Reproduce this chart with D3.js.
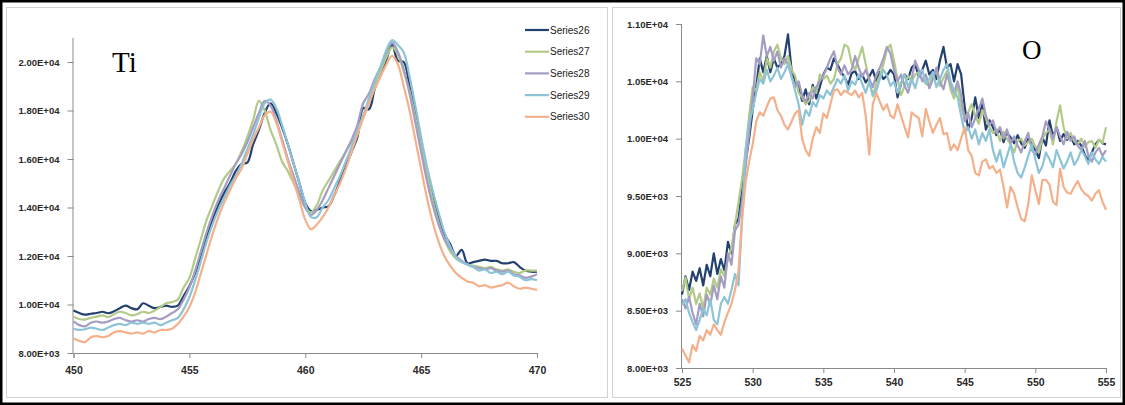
<!DOCTYPE html>
<html>
<head>
<meta charset="utf-8">
<script src="https://cdn.jsdelivr.net/npm/d3@7"></script>
<style>
  body { margin: 0; background: #ffffff; }
  svg { display: block; }
  .tick text { font-family: "Liberation Sans", Arial, sans-serif; font-size: 9.5px; font-weight: bold; fill: #2a2a2a; }
</style>
</head>
<body>
<svg id="chart" width="1125" height="405"></svg>
<script>
// ---- Series ----
const seriesNames = ["Series26", "Series27", "Series28", "Series29", "Series30"];
const seriesColors = ["#23416f", "#b2ca88", "#a49cc2", "#8cc3d7", "#f3b08a"];

// ---- Ti L-edge panel: energy grid 450–470 eV, 0.25 eV steps ----
const tiEnergy = d3.range(81).map(i => 450 + i * 0.25);
const tiS26 = [9750,9650,9580,9620,9650,9700,9640,9720,9850,9950,9850,9800,10050,9950,9850,9900,9950,9900,9950,10350,
  10750,11300,12000,12800,13500,14100,14600,15000,15500,15800,15850,16600,17200,17900,18300,17900,17300,16600,15800,15000,
  14200,13850,13900,14000,14050,14500,15100,15700,16300,16900,18100,18050,18900,19500,20100,20700,20050,20000,19000,17900,
  16700,15500,14500,13600,12900,12500,12000,12250,11700,11750,11800,11850,11800,11800,11700,11700,11750,11550,11400,11350,11350];
const tiS27 = [9500,9400,9380,9450,9500,9550,9480,9600,9700,9650,9550,9600,9700,9650,9750,9900,10050,10100,10200,10700,
  11100,11900,12700,13500,14100,14700,15200,15500,15800,16300,16900,17600,18400,18000,17200,16600,15900,15500,15000,14500,
  14000,13800,14100,14700,15100,15500,15900,16300,16700,17100,17700,18300,19000,19600,20200,20600,20300,19600,18800,17700,
  16500,15400,14300,13400,12700,12200,11900,11750,11650,11600,11550,11500,11550,11450,11400,11450,11350,11300,11400,11400,11400];
const tiS28 = [9300,9150,9100,9250,9300,9250,9300,9400,9450,9350,9300,9350,9300,9400,9450,9400,9500,9650,9800,10200,
  10700,11400,12200,13000,13700,14300,14800,15300,15800,16200,16700,17300,17900,18400,18200,17600,16800,16000,15300,14600,
  14000,13700,13900,14300,14800,15300,15800,16300,16800,17400,18300,18700,19300,19800,20400,20800,20400,19700,18700,17500,
  16300,15100,14100,13300,12700,12300,12000,11800,11650,11550,11500,11450,11500,11400,11350,11400,11250,11200,11100,11150,11250];
const tiS29 = [9000,8950,8980,9050,9000,8950,9050,9150,9200,9150,9250,9200,9250,9200,9250,9150,9250,9350,9450,9800,
  10300,11000,11800,12600,13300,13900,14400,14900,15300,15800,16400,17000,17700,18300,18450,18100,17400,16600,15800,15000,
  14200,13600,13600,14000,14300,14800,15300,15900,16500,17200,17800,18500,19200,19800,20500,20900,20700,20400,19400,18200,
  16900,15700,14700,13800,13000,12400,11950,11750,11650,11550,11400,11450,11300,11350,11250,11350,11200,11150,11000,11050,11000];
const tiS30 = [8600,8500,8450,8650,8700,8650,8700,8850,8900,8850,8800,8850,8800,8900,8850,8950,8950,9000,9200,9500,
  9900,10500,11300,12100,12900,13600,14200,14700,15200,15600,16200,16800,17300,17800,17950,17500,16700,15900,15100,14300,
  13500,13100,13300,13600,14000,14500,15000,15600,16300,17000,17700,18300,18900,19400,19900,20250,19900,19000,18000,16800,
  15600,14400,13400,12600,12000,11600,11300,11100,10950,10900,10750,10800,10700,10750,10800,10900,10750,10650,10700,10650,10600];
const tiXTicks = [450, 455, 460, 465, 470];
const tiYTicks = [8000, 10000, 12000, 14000, 16000, 18000, 20000];

// ---- O K-edge panel: energy grid 525–555 eV, 0.25 eV steps ----
const oEnergy = d3.range(121).map(i => 525 + i * 0.25);
const oS26 = [8640,8800,8680,8840,8760,8870,8720,8900,8800,9000,8820,8950,8850,9100,9000,9250,9300,9550,9800,10000,
  10250,10450,10700,10580,10720,10580,10700,10620,10650,10720,10910,10600,10500,10450,10330,10430,10300,10470,10350,10450,
  10560,10620,10600,10700,10650,10580,10540,10470,10570,10590,10520,10560,10490,10540,10600,10500,10580,10520,10550,10600,
  10560,10360,10480,10560,10520,10620,10650,10540,10600,10680,10560,10600,10520,10680,10800,10620,10650,10500,10650,10560,
  10280,10080,10180,10360,10180,10300,10080,10160,10100,10030,10080,9970,10050,10010,9960,10030,9960,9920,10000,9950,
  9900,9830,10010,9940,10160,10020,10100,9980,10040,9990,10030,9950,9980,9940,9860,9810,9880,9950,9990,9960,9950];
const oS27 = [8670,8790,8600,8700,8560,8650,8520,8700,8640,8780,8700,8860,8800,8950,9050,9250,9450,9650,9900,10200,
  10450,10420,10580,10500,10700,10620,10760,10820,10700,10650,10720,10600,10550,10400,10360,10300,10330,10450,10400,10560,
  10520,10550,10480,10520,10650,10700,10820,10800,10660,10600,10700,10800,10650,10500,10370,10480,10550,10650,10780,10820,
  10680,10520,10380,10460,10550,10500,10560,10580,10520,10480,10460,10560,10600,10460,10530,10590,10430,10350,10460,10280,
  10180,10230,10300,10200,10130,10250,10180,10100,10050,10080,9980,10060,10000,9950,9880,9980,10000,9940,9970,10000,
  9930,9880,10000,10050,10080,9950,10150,10290,10100,10000,10050,9980,9950,10000,9930,9970,9980,9920,9990,9960,10100];
const oS28 = [8600,8520,8620,8480,8380,8560,8450,8640,8550,8720,8600,8800,8700,9000,8900,9200,9250,9450,9750,10050,
  10350,10700,10650,10900,10720,10800,10680,10760,10620,10700,10650,10550,10450,10500,10380,10320,10400,10350,10450,10500,
  10550,10620,10700,10760,10620,10560,10640,10560,10600,10720,10620,10540,10600,10520,10450,10560,10620,10700,10800,10740,
  10600,10500,10560,10460,10400,10520,10680,10600,10500,10560,10440,10520,10620,10500,10430,10560,10480,10400,10500,10380,
  10150,10220,10100,10180,10260,10350,10200,10120,10160,10050,10100,10000,10080,9960,10020,9940,9880,9980,10050,9900,
  9860,9950,10020,10150,10080,10000,10100,10020,9950,10060,9980,10020,9940,9900,9980,9850,9800,9880,9920,9850,9900];
const oS29 = [8550,8600,8480,8400,8330,8420,8520,8460,8600,8420,8380,8560,8620,8560,8680,8820,8720,9300,9900,10150,
  10250,10400,10520,10480,10600,10500,10550,10620,10520,10580,10650,10540,10420,10300,10120,10250,10200,10320,10280,10380,
  10350,10420,10380,10450,10520,10480,10550,10420,10500,10470,10560,10480,10400,10500,10380,10420,10520,10600,10550,10460,
  10500,10400,10480,10560,10450,10520,10440,10560,10600,10480,10520,10580,10450,10520,10600,10650,10500,10420,10360,10200,
  10050,10100,10000,10080,9950,10050,9980,10080,9900,9800,9900,9750,9850,9950,9800,9700,9660,9750,9850,9950,
  9820,9700,9760,9880,9820,9750,9900,9820,9740,9800,9880,9770,9820,9900,9850,9780,9880,9820,9780,9840,9800];
const oS30 = [8170,8110,8050,8200,8150,8280,8240,8330,8290,8380,8330,8290,8400,8480,8560,8680,8850,9300,9620,9800,
  9950,10150,10230,10200,10280,10350,10360,10250,10200,10120,10080,10150,10220,10250,10000,9900,9850,10000,10100,10050,
  10220,10180,10300,10420,10430,10380,10420,10400,10380,10420,10360,10400,10200,9860,10300,10400,10320,10250,10300,10200,
  10180,10300,10200,10100,10010,10230,10200,10180,10020,10260,10150,10050,10120,10180,10040,10050,9900,9950,9900,10000,
  10100,9900,9850,9700,9680,9800,9820,9740,9760,9700,9730,9580,9400,9580,9520,9400,9300,9280,9430,9680,
  9550,9430,9640,9640,9600,9450,9420,9740,9580,9530,9520,9580,9630,9560,9520,9500,9460,9520,9550,9450,9380];
const oXTicks = [525, 530, 535, 540, 545, 550, 555];
const oYTicks = [8000, 8500, 9000, 9500, 10000, 10500, 11000];

// ---- Drawing ----
const svg = d3.select("#chart");
const sci = v => v.toExponential(2).toUpperCase().replace("E+", "E+0");

// white page with panel frames
svg.append("rect").attr("x", 0).attr("y", 0).attr("width", 1125).attr("height", 405).attr("fill", "#ffffff");
svg.append("rect").attr("x", 6.5).attr("y", 7.5).attr("width", 601).attr("height", 390)
  .attr("fill", "none").attr("stroke", "#d2d2d2").attr("stroke-width", 1);
svg.append("rect").attr("x", 612.5).attr("y", 7.5).attr("width", 508).attr("height", 390)
  .attr("fill", "none").attr("stroke", "#d2d2d2").attr("stroke-width", 1);

function drawPanel(cfg) {
  const x = d3.scaleLinear().domain(cfg.xDomain).range(cfg.xRange);
  const y = d3.scaleLinear().domain(cfg.yDomain).range(cfg.yRange);
  const g = svg.append("g");

  const yAxis = g.append("g").attr("transform", `translate(${cfg.xRange[0]},0)`)
    .call(d3.axisLeft(y).tickValues(cfg.yTicks).tickFormat(sci).tickSize(6).tickPadding(8));
  const xAxis = g.append("g").attr("transform", `translate(0,${cfg.yRange[0]})`)
    .call(d3.axisBottom(x).tickValues(cfg.xTicks).tickFormat(d3.format("d")).tickSize(5).tickPadding(cfg.xPad));
  [yAxis, xAxis].forEach(a => {
    a.select(".domain").attr("stroke", "#8a8a8a");
    a.selectAll(".tick line").attr("stroke", "#8a8a8a");
  });
  xAxis.selectAll(".tick text").style("font-size", "10.5px");
  yAxis.select(".domain").attr("d", `M-0.5,${cfg.yRange[0]}V${y(cfg.yTop)}`);

  const line = d3.line().x((d, i) => x(cfg.energy[i])).y(d => y(d)).curve(cfg.curve);
  cfg.series.forEach((vals, k) => {
    g.append("path").datum(vals).attr("d", line)
      .attr("fill", "none").attr("stroke", seriesColors[k])
      .attr("stroke-width", 2.2).attr("stroke-linejoin", "round");
  });

  g.append("text").attr("x", cfg.label.x).attr("y", cfg.label.y)
    .attr("font-family", "'Liberation Serif', 'Times New Roman', serif")
    .attr("font-size", cfg.label.size).attr("fill", "#000").text(cfg.label.text);
}

drawPanel({
  energy: tiEnergy, series: [tiS26, tiS27, tiS28, tiS29, tiS30],
  xDomain: [450, 470], xRange: [73.5, 537],
  yDomain: [8000, 20000], yRange: [353, 62], yTop: 21000, xPad: 9,
  xTicks: tiXTicks, yTicks: tiYTicks, curve: d3.curveCatmullRom,
  label: { text: "Ti", x: 112, y: 72, size: 29 }
});

drawPanel({
  energy: oEnergy, series: [oS26, oS27, oS28, oS29, oS30],
  xDomain: [525, 555], xRange: [682, 1106],
  yDomain: [8000, 11000], yRange: [368, 24], yTop: 11000, xPad: 6,
  xTicks: oXTicks, yTicks: oYTicks, curve: d3.curveLinear,
  label: { text: "O", x: 1022, y: 59, size: 27 }
});

// legend
const legend = svg.append("g").attr("transform", "translate(525,30)");
seriesNames.forEach((name, k) => {
  const row = legend.append("g").attr("transform", `translate(0,${k * 21.7})`);
  row.append("line").attr("x1", 0).attr("x2", 24).attr("y1", 0).attr("y2", 0)
    .attr("stroke", seriesColors[k]).attr("stroke-width", 2.2);
  row.append("text").attr("x", 25).attr("y", 3.5)
    .attr("font-family", "'Liberation Sans', Arial, sans-serif").attr("font-size", 10)
    .attr("fill", "#1a1a1a").text(name);
});

// outer frame
svg.append("rect").attr("x", 1.25).attr("y", 1.25).attr("width", 1122.5).attr("height", 402.5)
  .attr("fill", "none").attr("stroke", "#000").attr("stroke-width", 2.5);
</script>
</body>
</html>
